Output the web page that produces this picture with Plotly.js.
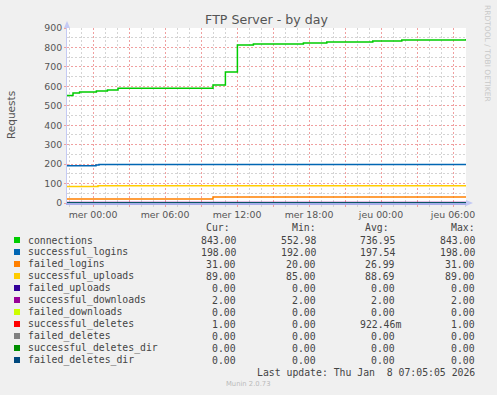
<!DOCTYPE html>
<html><head><meta charset="utf-8">
<script src="https://cdn.plot.ly/plotly-3.0.1.min.js"></script>
<style>html,body{margin:0;padding:0;background:#F0F0F0;}</style>
</head><body><div id="chart" style="width:497px;height:395px;"></div>
<script>
// ---- data ----
const seriesNames = ["connections","successful_logins","failed_logins","successful_uploads","failed_uploads","successful_downloads","failed_downloads","successful_deletes","failed_deletes","successful_deletes_dir","failed_deletes_dir"];
const seriesColors = ["#00CC00","#0066B3","#FF8000","#FFCC00","#330099","#990099","#CCFF00","#FF0000","#808080","#008F00","#00487D"];

const rangeStart = "2026-01-06 21:50";
const rangeEnd = "2026-01-08 07:05";

const connTimes = ["2026-01-06 21:50","2026-01-06 22:20","2026-01-06 22:53","2026-01-07 00:17","2026-01-07 01:12","2026-01-07 02:05","2026-01-07 07:59","2026-01-07 10:00","2026-01-07 11:02","2026-01-07 12:02","2026-01-07 13:22","2026-01-07 17:32","2026-01-07 19:29","2026-01-07 23:19","2026-01-08 01:44","2026-01-08 07:05"];
const connValues = [553, 566, 571, 576, 581, 590, 590, 607, 674, 812, 818, 823, 828, 833, 838, 843];

const loginTimes = ["2026-01-06 21:50","2026-01-07 00:15","2026-01-07 00:30","2026-01-08 07:05"];
const loginValues = [192, 195, 198, 198];

const failLoginTimes = ["2026-01-06 21:50","2026-01-07 10:00","2026-01-08 07:05"];
const failLoginValues = [20, 31, 31];

const uploadTimes = ["2026-01-06 21:50","2026-01-07 00:25","2026-01-08 07:05"];
const uploadValues = [85, 89, 89];

const flatTimes = ["2026-01-06 21:50","2026-01-08 07:05"];
const failedUploadsValues = [0, 0];
const downloadsValues = [2, 2];
const failedDownloadsValues = [0, 0];
const deleteTimes = ["2026-01-06 21:50","2026-01-07 00:25","2026-01-08 07:05"];
const deleteValues = [0, 1, 1];
const failedDeletesValues = [0, 0];
const deletesDirValues = [0, 0];
const failedDeletesDirValues = [0, 0];

const curValues = [843, 198, 31, 89, 0, 2, 0, 1, 0, 0, 0];
const minValues = [552.98, 192, 20, 85, 0, 2, 0, 0, 0, 0, 0];
const avgValues = [736.95, 197.54, 26.99, 88.69, 0, 2, 0, 0.92246, 0, 0, 0];
const maxValues = [843, 198, 31, 89, 0, 2, 0, 1, 0, 0, 0];

const tickTimes = ["2026-01-07 00:00","2026-01-07 03:00","2026-01-07 06:00","2026-01-07 09:00","2026-01-07 12:00","2026-01-07 15:00","2026-01-07 18:00","2026-01-07 21:00","2026-01-08 00:00","2026-01-08 03:00","2026-01-08 06:00"];
const tickLabels = ["mer 00:00","","mer 06:00","","mer 12:00","","mer 18:00","","jeu 00:00","","jeu 06:00"];

const seriesX = [connTimes, loginTimes, failLoginTimes, uploadTimes, flatTimes, flatTimes, flatTimes, deleteTimes, flatTimes, flatTimes, flatTimes];
const seriesY = [connValues, loginValues, failLoginValues, uploadValues, failedUploadsValues, downloadsValues, failedDownloadsValues, deleteValues, failedDeletesValues, deletesDirValues, failedDeletesDirValues];

// ---- layout helpers ----
const W = 497, H = 395, ML = 67, MR = 31, MT = 28, MB = 192;
const PW = W - ML - MR, PH = H - MT - MB;
const px = x => (x - ML) / PW;
const py = y => (H - MB - y) / PH;

function fmt(v) {
  if (v !== 0 && Math.abs(v) < 1) return (v * 1000).toFixed(2) + "m";
  return v.toFixed(2);
}

const traces = seriesNames.map((n, i) => ({
  x: seriesX[i], y: seriesY[i], name: n, type: "scatter", mode: "lines",
  line: {color: seriesColors[i], width: 1.5, shape: "hv"}, hoverinfo: "skip"
}));

const mono = {family: "DejaVu Sans Mono", size: 9.8, color: "#444"};
const annotations = [];
const shapes = [];
const colRight = [237.7, 317.7, 396.7, 476.7];
const headRight = [231.7, 317.7, 390.7, 476.7];
const heads = ["Cur:", "Min:", "Avg:", "Max:"];
const charW = 5.9;
heads.forEach((h, j) => annotations.push({xref: "paper", yref: "paper", x: px(headRight[j]), y: py(227.5), text: h, showarrow: false, xanchor: "right", yanchor: "middle", font: mono}));
const cols = [curValues, minValues, avgValues, maxValues];
seriesNames.forEach((n, i) => {
  const yc = 240 + 12 * i;
  shapes.push({type: "rect", xref: "paper", yref: "paper", x0: px(14), x1: px(20), y0: py(yc - 3), y1: py(yc + 3), fillcolor: seriesColors[i], line: {width: 0}});
  annotations.push({xref: "paper", yref: "paper", x: px(26), y: py(yc), text: n, showarrow: false, xanchor: "left", yanchor: "middle", font: mono});
  cols.forEach((c, j) => {
    const s = fmt(c[i]);
    const extra = /[a-z]$/.test(s) ? charW : 0;
    annotations.push({xref: "paper", yref: "paper", x: px(colRight[j] + extra), y: py(yc), text: s, showarrow: false, xanchor: "right", yanchor: "middle", font: mono});
  });
});
annotations.push({xref: "paper", yref: "paper", x: px(476.7), y: py(372), text: "Last update: Thu Jan \u00a08 07:05:05 2026", showarrow: false, xanchor: "right", yanchor: "middle", font: mono});
annotations.push({xref: "paper", yref: "paper", x: px(248), y: py(384), text: "Munin 2.0.73", showarrow: false, xanchor: "center", yanchor: "middle", font: {family: "DejaVu Sans", size: 6.8, color: "#BBBBBB"}});
annotations.push({xref: "paper", yref: "paper", x: px(488), y: py(53), text: "RRDTOOL / TOBI OETIKER", showarrow: false, textangle: 90, xanchor: "center", yanchor: "middle", font: {family: "DejaVu Sans", size: 7.5, color: "#C8C8C8"}});
annotations.push({xref: "paper", yref: "paper", x: px(11), y: py(115), text: "Requests", showarrow: false, textangle: -90, xanchor: "center", yanchor: "middle", font: {family: "DejaVu Sans", size: 10.5, color: "#555"}});

// axis arrows
const axc = "#A8AEEA";
shapes.push({type: "path", xref: "paper", yref: "paper", path: `M ${px(64)} ${py(28)} L ${px(70)} ${py(28)} L ${px(67)} ${py(21)} Z`, fillcolor: "#C4CAF4", line: {width: 0}});
shapes.push({type: "path", xref: "paper", yref: "paper", path: `M ${px(466)} ${py(200)} L ${px(466)} ${py(206)} L ${px(473)} ${py(203)} Z`, fillcolor: "#C4CAF4", line: {width: 0}});

const layout = {
  width: W, height: H,
  margin: {l: ML, r: MR, t: MT, b: MB, pad: 0},
  paper_bgcolor: "#F0F0F0", plot_bgcolor: "#FFFFFF",
  showlegend: false,
  title: {text: "FTP Server - by day", x: 0.5, xref: "paper", xanchor: "center", y: 1 - 20 / H, yanchor: "middle", font: {family: "DejaVu Sans", size: 12.6, color: "#555"}},
  xaxis: {
    type: "date", range: [rangeStart, rangeEnd], tickmode: "array", tickvals: tickTimes, ticktext: tickLabels,
    showgrid: true, gridcolor: "#F0A0A0", griddash: "2px,2px", gridwidth: 1,
    ticks: "outside", ticklen: 2, tickcolor: "#F0A0A0",
    minor: {tickmode: "linear", dtick: 3600000, tick0: "2026-01-07 00:00", showgrid: true, gridcolor: "#D4D4D4", griddash: "2px,2px", ticks: "outside", ticklen: 2, tickcolor: "#D4D4D4"},
    showline: true, linecolor: axc, linewidth: 1.5, zeroline: false, layer: "above traces",
    tickfont: {family: "DejaVu Sans", size: 9.4, color: "#555"}, fixedrange: true
  },
  yaxis: {
    range: [0, 900], dtick: 100, tick0: 0,
    showgrid: true, gridcolor: "#F0A0A0", griddash: "2px,2px", gridwidth: 1,
    ticks: "outside", ticklen: 2, tickcolor: "#F0A0A0",
    minor: {tickmode: "linear", dtick: 50, tick0: 0, showgrid: true, gridcolor: "#D4D4D4", griddash: "2px,2px"},
    showline: true, linecolor: "#C4CAF4", linewidth: 1, zeroline: false,
    tickfont: {family: "DejaVu Sans", size: 9.4, color: "#555"},
    fixedrange: true
  },
  annotations: annotations, shapes: shapes
};
Plotly.newPlot("chart", traces, layout, {staticPlot: true, displayModeBar: false});
</script></body></html>
